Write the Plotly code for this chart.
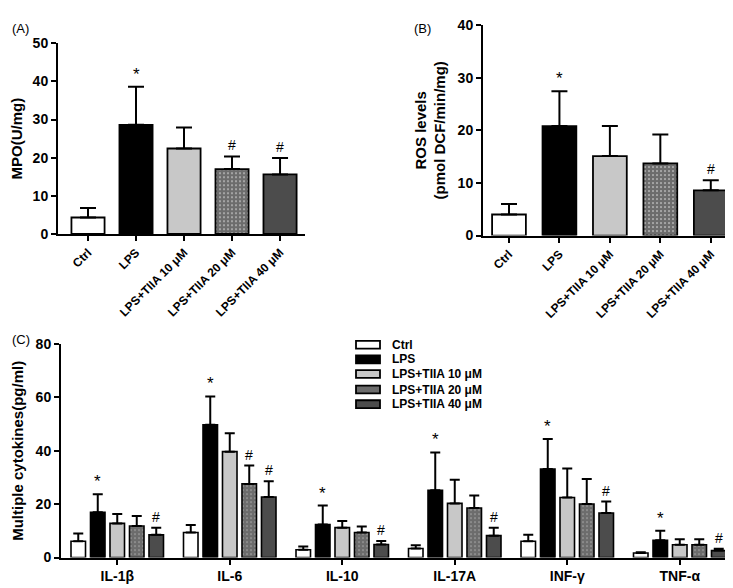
import plotly.graph_objects as go

W, H = 733, 588
FONT = "Arial, Liberation Sans, sans-serif"

# ---------------- data ----------------
groups = ["Ctrl", "LPS", "LPS+TIIA 10 μM", "LPS+TIIA 20 μM", "LPS+TIIA 40 μM"]
group_colors = ["#ffffff", "#000000", "#c8c8c8", "#6c6c6c", "#4c4c4c"]
group_patterns = ["", "", "", ".", ""]

mpo_mean = [4.3, 28.6, 22.4, 17.0, 15.6]
mpo_err = [2.5, 10.0, 5.5, 3.3, 4.3]
mpo_marks = ["", "*", "", "#", "#"]

ros_mean = [4.0, 20.8, 15.1, 13.7, 8.6]
ros_err = [2.0, 6.6, 5.7, 5.5, 1.9]
ros_marks = ["", "*", "", "", "#"]

cytokines = ["IL-1β", "IL-6", "IL-10", "IL-17A", "INF-γ", "TNF-α"]
ctrl_mean = [6.1, 9.4, 2.9, 3.4, 6.1, 1.7]
ctrl_err = [2.9, 2.8, 1.2, 1.2, 2.4, 0.3]
lps_mean = [17.0, 49.8, 12.4, 25.2, 33.2, 6.5]
lps_err = [6.7, 10.6, 7.1, 14.2, 11.2, 3.5]
t10_mean = [12.8, 39.7, 11.2, 20.3, 22.5, 4.8]
t10_err = [3.5, 6.9, 2.5, 8.9, 10.9, 2.1]
t20_mean = [11.8, 27.6, 9.4, 18.6, 20.1, 4.8]
t20_err = [3.8, 6.9, 2.2, 4.7, 9.3, 2.1]
t40_mean = [8.5, 22.7, 4.9, 8.2, 16.7, 2.6]
t40_err = [2.7, 5.9, 1.3, 3.0, 4.3, 0.7]
ctrl_marks = ["", "", "", "", "", ""]
lps_marks = ["*", "*", "*", "*", "*", "*"]
t10_marks = ["", "", "", "", "", ""]
t20_marks = ["", "#", "", "", "", ""]
t40_marks = ["#", "#", "#", "#", "#", "#"]

# ---------------- figure ----------------
fig = go.Figure()

def px_x(p):
    return p / W

def px_y(p):
    return 1 - p / H

annotations = []

def mark_font(t):
    return dict(size=17 if t == "*" else 14, family=FONT, color="black")

def add_panel_bars(means, errs, marks, xa, ya, width, cap):
    xs = list(range(len(means)))
    fig.add_trace(go.Bar(
        x=xs, y=means, width=width,
        xaxis=xa, yaxis=ya, showlegend=False,
        marker=dict(color=group_colors,
                    line=dict(color="black", width=1.8),
                    pattern=dict(shape=group_patterns, fgcolor="#bdbdbd",
                                 size=4, solidity=0.2)),
        error_y=dict(type="data", symmetric=False, array=errs,
                     arrayminus=[0] * len(errs), color="black",
                     thickness=2, width=cap),
    ))
    for x, m, e, t in zip(xs, means, errs, marks):
        if t:
            annotations.append(dict(x=x, y=m + e, xref=xa, yref=ya, text=t,
                                    showarrow=False, yanchor="bottom",
                                    yshift=1, font=mark_font(t)))

add_panel_bars(mpo_mean, mpo_err, mpo_marks, "x", "y", 0.69, 8)
add_panel_bars(ros_mean, ros_err, ros_marks, "x2", "y2", 0.67, 8)

series_c = [
    (groups[0], ctrl_mean, ctrl_err, ctrl_marks),
    (groups[1], lps_mean, lps_err, lps_marks),
    (groups[2], t10_mean, t10_err, t10_marks),
    (groups[3], t20_mean, t20_err, t20_marks),
    (groups[4], t40_mean, t40_err, t40_marks),
]
bw = 0.129
pitch = 0.1733
for k, (name, means, errs, marks) in enumerate(series_c):
    shift = (k - 2) * pitch
    xs = [i + shift for i in range(len(cytokines))]
    fig.add_trace(go.Bar(
        x=xs, y=means, width=bw, name=name,
        xaxis="x3", yaxis="y3", showlegend=False,
        marker=dict(color=group_colors[k],
                    line=dict(color="black", width=1.6),
                    pattern=dict(shape=group_patterns[k], fgcolor="#bdbdbd",
                                 size=4, solidity=0.2)),
        error_y=dict(type="data", symmetric=False, array=errs,
                     arrayminus=[0] * len(errs), color="black",
                     thickness=2, width=5),
    ))
    for x, m, e, t in zip(xs, means, errs, marks):
        if t:
            annotations.append(dict(x=x, y=m + e, xref="x3", yref="y3", text=t,
                                    showarrow=False, yanchor="bottom",
                                    yshift=1, font=mark_font(t)))

# manual legend for panel C
leg_x0, leg_x1 = 348, 372
leg_y = [338, 353, 368, 384, 399]
shapes = []
for k, name in enumerate(groups):
    yc = leg_y[k]
    shapes.append(dict(type="rect", xref="paper", yref="paper",
                       x0=px_x(leg_x0), x1=px_x(leg_x1),
                       y0=px_y(yc + 4), y1=px_y(yc - 4),
                       fillcolor=group_colors[k],
                       line=dict(color="black", width=1.8)))
    annotations.append(dict(x=px_x(382), y=px_y(yc), xref="paper", yref="paper",
                            text="<b>%s</b>" % name, showarrow=False,
                            xanchor="left", yanchor="middle",
                            font=dict(size=12, family=FONT, color="black")))

for lab, x, y in [("(A)", 2, 13), ("(B)", 404, 13), ("(C)", 2, 333)]:
    annotations.append(dict(x=px_x(x), y=px_y(y), xref="paper", yref="paper",
                            text=lab, showarrow=False, xanchor="left",
                            yanchor="middle",
                            font=dict(size=13, family=FONT, color="black")))

axis_common = dict(showline=True, linecolor="black", linewidth=2,
                   ticks="outside", ticklen=5, tickwidth=2, tickcolor="black",
                   showgrid=False, zeroline=False,
                   tickfont=dict(size=14, family=FONT, color="black"))

def bold(lst):
    return ["<b>%s</b>" % s for s in lst]

rot_font = dict(size=12, family=FONT, color="black")

fig.update_layout(
    width=W, height=H,
    margin=dict(l=0, r=0, t=0, b=0),
    paper_bgcolor="white", plot_bgcolor="white",
    barmode="overlay",
    xaxis=dict(axis_common, domain=[px_x(50), px_x(297)], range=[-0.625, 4.52],
               tickvals=list(range(5)), ticktext=bold(groups), tickangle=-45,
               tickfont=rot_font, anchor="y"),
    yaxis=dict(axis_common, domain=[px_y(224), px_y(28)], range=[0, 50],
               anchor="x",
               tickvals=[0, 10, 20, 30, 40, 50],
               ticktext=bold(["0", "10", "20", "30", "40", "50"]),
               title=dict(text="<b>MPO(U/mg)</b>",
                          font=dict(size=15, family=FONT, color="black"),
                          standoff=8)),
    xaxis2=dict(axis_common, domain=[px_x(475), px_x(728)], range=[-0.515, 4.5],
                tickvals=list(range(5)), ticktext=bold(groups), tickangle=-45,
                tickfont=rot_font, anchor="y2"),
    yaxis2=dict(axis_common, domain=[px_y(225.7), px_y(9.3)], range=[0, 40],
                anchor="x2",
                tickvals=[0, 10, 20, 30, 40],
                ticktext=bold(["0", "10", "20", "30", "40"]),
                title=dict(text="<b>ROS levels<br>(pmol DCF/min/mg)</b>",
                           font=dict(size=15, family=FONT, color="black"),
                           standoff=8)),
    xaxis3=dict(axis_common, domain=[px_x(53), px_x(728)], range=[-0.5, 5.5],
                tickvals=list(range(6)), ticktext=bold(cytokines), anchor="y3"),
    yaxis3=dict(axis_common, domain=[px_y(556.7), px_y(337.3)], range=[0, 80],
                anchor="x3",
                tickvals=[0, 20, 40, 60, 80],
                ticktext=bold(["0", "20", "40", "60", "80"]),
                title=dict(text="<b>Multiple cytokines(pg/ml)</b>",
                           font=dict(size=15, family=FONT, color="black"),
                           standoff=8)),
    annotations=annotations,
    shapes=shapes,
)

fig.write_html("out.html")
